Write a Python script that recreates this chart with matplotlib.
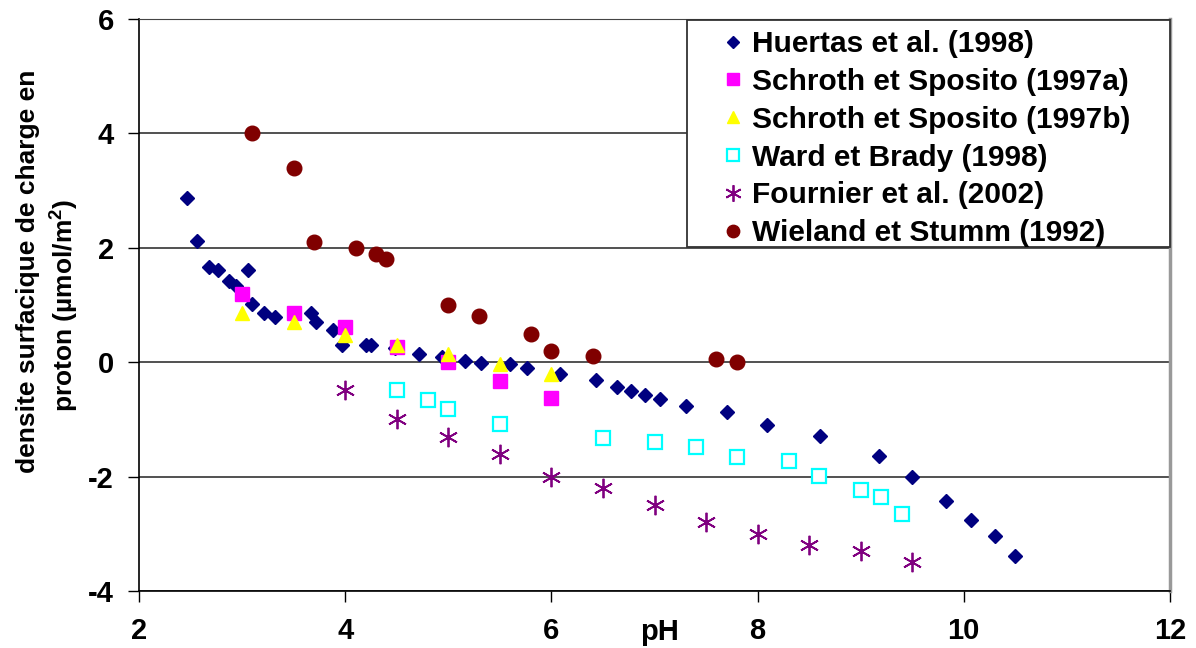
import matplotlib.pyplot as plt
from matplotlib.patches import Rectangle

plt.rcParams['font.family'] = ['Liberation Sans', 'DejaVu Sans']
plt.rcParams['font.weight'] = 'bold'
plt.rcParams['axes.unicode_minus'] = False
plt.rcParams['mathtext.fontset'] = 'custom'
plt.rcParams['mathtext.rm'] = 'Liberation Sans:bold'
plt.rcParams['mathtext.bf'] = 'Liberation Sans:bold'

# Huertas et al. (1998)
huertas_ph = [2.47, 2.56, 2.68, 2.77, 2.87, 2.94, 3.06, 3.10, 3.21, 3.32, 3.67, 3.72,
              3.88, 3.97, 4.20, 4.25, 4.48, 4.72, 4.94, 5.16, 5.32, 5.60, 5.76, 6.08,
              6.43, 6.64, 6.77, 6.91, 7.05, 7.31, 7.70, 8.09, 8.61, 9.18, 9.50, 9.83,
              10.07, 10.30, 10.50]
huertas_q = [2.87, 2.12, 1.66, 1.61, 1.42, 1.33, 1.61, 1.01, 0.86, 0.79, 0.86, 0.70,
             0.56, 0.30, 0.30, 0.30, 0.24, 0.14, 0.09, 0.02, -0.02, -0.04, -0.11, -0.21,
             -0.31, -0.43, -0.50, -0.57, -0.65, -0.77, -0.87, -1.10, -1.29, -1.64, -2.01, -2.43,
             -2.75, -3.04, -3.39]

# Schroth et Sposito (1997a) et (1997b)
schroth_ph = [3.0, 3.5, 4.0, 4.5, 5.0, 5.5, 6.0]
schroth_a_q = [1.19, 0.86, 0.61, 0.26, 0.0, -0.32, -0.63]
schroth_b_q = [0.86, 0.70, 0.47, 0.30, 0.14, -0.04, -0.21]

# Ward et Brady (1998)
ward_ph = [4.5, 4.8, 5.0, 5.5, 6.5, 7.0, 7.4, 7.8, 8.3, 8.6, 9.0, 9.2, 9.4]
ward_q = [-0.49, -0.66, -0.82, -1.08, -1.33, -1.40, -1.49, -1.66, -1.73, -1.99, -2.24, -2.36, -2.66]

# Fournier et al. (2002)
fournier_ph = [4.0, 4.5, 5.0, 5.5, 6.0, 6.5, 7.0, 7.5, 8.0, 8.5, 9.0, 9.5]
fournier_q = [-0.49, -1.0, -1.3, -1.6, -2.0, -2.2, -2.5, -2.8, -3.0, -3.2, -3.3, -3.5]

# Wieland et Stumm (1992)
wieland_ph = [3.1, 3.5, 3.7, 4.1, 4.3, 4.4, 5.0, 5.3, 5.8, 6.0, 6.4, 7.6, 7.8]
wieland_q = [4.0, 3.4, 2.1, 2.0, 1.9, 1.8, 1.0, 0.8, 0.5, 0.2, 0.1, 0.05, 0.0]

W, H = 1196, 648
fig = plt.figure(figsize=(W / 100, H / 100), dpi=100)
ax = fig.add_axes([139 / W, 1 - 591 / H, (1170 - 139) / W, (591 - 19) / H])

ax.plot(huertas_ph, huertas_q, 'D', color='#000080', ms=7.6, mec='#000080',
        label='Huertas et al. (1998)')
ax.plot(schroth_ph, schroth_a_q, 's', color='#FF00FF', ms=10, mec='#FF00FF',
        label='Schroth et Sposito (1997a)')
ax.plot(schroth_ph, schroth_b_q, '^', color='#FFFF00', ms=10, mec='#FFFF00',
        label='Schroth et Sposito (1997b)')
ax.plot(ward_ph, ward_q, 's', mfc='white', mec='#00FFFF', mew=1.6, ms=9.5,
        label='Ward et Brady (1998)')
ax.plot(fournier_ph, fournier_q, marker=(6, 2, 0), ls='none', color='#800080',
        mew=1.3, ms=14, label='Fournier et al. (2002)')
ax.plot(wieland_ph, wieland_q, 'o', color='#800000', ms=10.5, mec='#800000',
        label='Wieland et Stumm (1992)')

ax.set_xlim(2, 12)
ax.set_ylim(-4, 6)
ax.set_xticks([2, 4, 6, 8, 10, 12])
ax.set_yticks([-4, -2, 0, 2, 4, 6])
ax.tick_params(axis='both', labelsize=21, length=8, width=1, direction='out')
ax.tick_params(axis='x', pad=11)
ax.tick_params(axis='y', pad=10)
for lbl in ax.get_xticklabels() + ax.get_yticklabels():
    lbl.set_fontweight('bold')

ax.grid(axis='y', color='#222222', lw=1.1)
ax.set_axisbelow(True)
ax.spines['top'].set_color('#444444')
ax.spines['right'].set_color('#999999')
ax.spines['right'].set_linewidth(2.5)
ax.spines['left'].set_linewidth(1.2)
ax.spines['bottom'].set_linewidth(1.2)

ax.text(0.505, -0.072, 'pH', transform=ax.transAxes, ha='center', va='center',
        fontsize=21, fontweight='bold')

fig.text(28 / W, 1 - 271 / H, 'densite surfacique de charge en', rotation=90,
         ha='center', va='center', fontsize=19, fontweight='bold')
fig.text(64 / W, 1 - 305 / H, r'proton (µmol/m$^{2}$)', rotation=90,
         ha='center', va='center', fontsize=19, fontweight='bold')

# legend box drawn separately so the entries can sit freely inside it
box = Rectangle((687 / W, 1 - 247 / H), (1170 - 687) / W, (247 - 20) / H,
                transform=fig.transFigure, facecolor='white', edgecolor='#333333',
                lw=1.3, zorder=4)
fig.add_artist(box)
leg = fig.legend(loc='upper left', bbox_to_anchor=(718 / W, 1 - 30 / H), borderaxespad=0,
                 fontsize=21.5, markerscale=0.85, frameon=False,
                 handletextpad=0.15, labelspacing=0.33, borderpad=0, handlelength=1.0)
leg.set_zorder(5)
for t in leg.get_texts():
    t.set_fontweight('bold')

fig.savefig('out.png', dpi=100)
